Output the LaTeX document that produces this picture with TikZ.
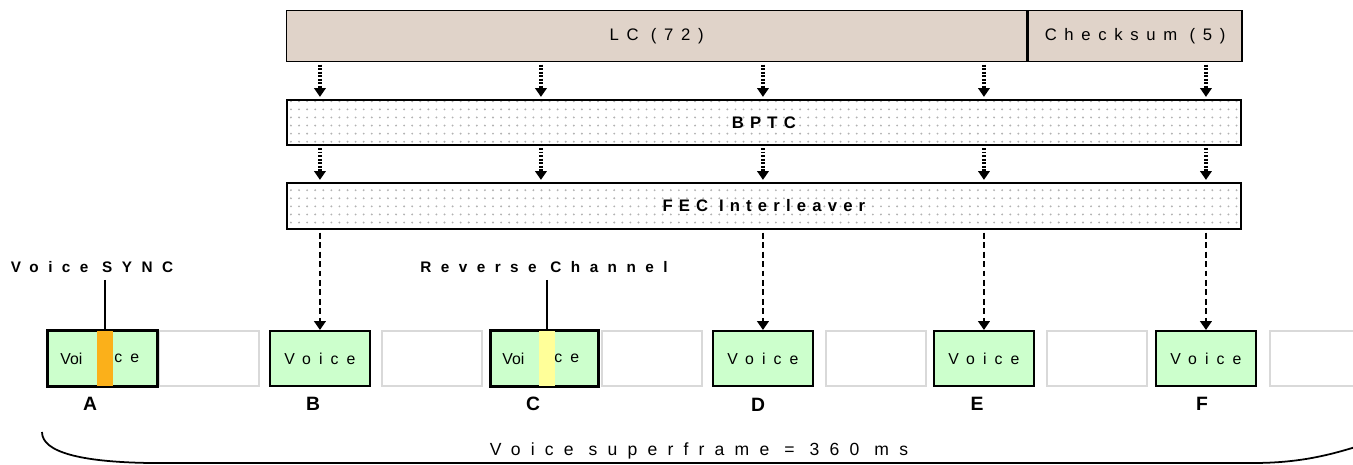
\documentclass[tikz,border=0pt]{standalone}
\usepackage{fontspec}
\setmainfont{Liberation Sans}
\usepackage{xcolor}
\usepackage{tikz}
\usetikzlibrary{arrows.meta, positioning, patterns.meta}
\definecolor{lcbrown}{HTML}{E0D3C9}
\definecolor{voicegreen}{HTML}{CCFFCC}
\definecolor{syncorange}{HTML}{FBB01A}
\definecolor{rcyellow}{HTML}{FFFF99}
\definecolor{slotgray}{HTML}{D9D9D9}
\newcommand{\spaced}[1]{\addfontfeatures{LetterSpace=#1}}
\tikzstyle{field}  = [rectangle, draw=black, line width=0.85pt, fill=lcbrown,
                      minimum height=1.02cm, inner sep=0pt, anchor=north west,
                      font=\fontsize{9.5}{11}\selectfont\spaced{46}]
\tikzstyle{coder}  = [rectangle, draw=black, line width=1.1pt,
                      pattern={Dots[radius=0.6pt, distance=4.6pt]}, pattern color=gray!60,
                      minimum width=19.08cm, inner sep=0pt, anchor=north west,
                      font=\fontsize{9.5}{11}\selectfont\bfseries\spaced{37}]
\tikzstyle{voice}  = [rectangle, draw=black, line width=1.1pt, fill=voicegreen,
                      minimum width=2cm, minimum height=1.1cm, inner sep=0pt,
                      anchor=north west, font=\fontsize{9}{10}\selectfont\spaced{51}]
\tikzstyle{slot}   = [rectangle, draw=slotgray, line width=1.2pt, minimum width=2cm,
                      minimum height=1.1cm, inner sep=0pt]
\tikzstyle{part}   = [inner sep=0pt, anchor=west, font=\fontsize{9}{10}\selectfont]
\tikzstyle{tag}    = [inner sep=0pt, font=\fontsize{8.7}{10}\selectfont\bfseries\spaced{62}]
\tikzstyle{burst}  = [inner sep=0pt, font=\fontsize{11}{12}\selectfont\bfseries]
\tikzstyle{darr}   = [-{Triangle[width=6.5pt, length=5pt]}, line width=2.1pt,
                      dash pattern=on 1.1pt off 0.9pt, shorten <=1.2pt, shorten >=1.2pt]
\tikzstyle{farr}   = [-{Triangle[width=6.5pt, length=5pt]}, line width=1.5pt,
                      dash pattern=on 3.4pt off 2pt, shorten <=1.5pt]

\begin{document}
\begin{tikzpicture}[x=0.02cm, y=-0.02cm]
  \useasboundingbox (0,0) rectangle (1353,465);

  % link control word and its coding
  \node[field, minimum width=14.8cm] (lc) at (286,10) {LC (72)};
  \node[field, minimum width=4.28cm, right=0pt of lc] (cks) {Checksum (5)};
  \node[coder, minimum height=0.9cm] (bptc) at (286,99) {BPTC};
  \node[coder, minimum height=0.92cm] (fec) at (286,182) {FEC Interleaver};

  % voice bursts A to F
  \node[voice, minimum width=2.18cm] (vA) at (47,330) {};
  \node[slot, right=0pt of vA] (eA) {};
  \node[voice] (vB) at (269,330) {Voice};
  \node[slot, right=0.2cm of vB] (eB) {};
  \node[voice, minimum width=2.14cm] (vC) at (490,330) {};
  \node[slot, right=0.04cm of vC] (eC) {};
  \node[voice] (vD) at (712,330) {Voice};
  \node[slot, right=0.22cm of vD] (eD) {};
  \node[voice] (vE) at (933,330) {Voice};
  \node[slot, right=0.22cm of vE] (eE) {};
  \node[voice] (vF) at (1155,330) {Voice};
  \node[slot, right=0.24cm of vF] (eF) {};

  % embedded sync and reverse channel
  \fill[syncorange] ([xshift=1cm]vA.north west) rectangle ([xshift=1.32cm]vA.south west);
  \draw[line width=1.1pt] (vA.north west) rectangle (vA.south east);
  \coordinate (sA) at ([xshift=1.16cm]vA.north west);
  \node[part] at ([xshift=0.26cm]vA.west) {Voi};
  \node[part, font=\fontsize{9}{10}\selectfont\spaced{51}] at ([xshift=1.34cm]vA.west) {ce};

  \fill[rcyellow] ([xshift=0.98cm]vC.north west) rectangle ([xshift=1.3cm]vC.south west);
  \draw[line width=1.1pt] (vC.north west) rectangle (vC.south east);
  \coordinate (sC) at ([xshift=1.14cm]vC.north west);
  \node[part] at ([xshift=0.24cm]vC.west) {Voi};
  \node[part, font=\fontsize{9}{10}\selectfont\spaced{51}] at ([xshift=1.28cm]vC.west) {ce};

  \node[tag] (syncl) at (92,267) {Voice SYNC};
  \node[tag] (revl) at (544,267) {Reverse Channel};
  \draw[line width=1.1pt] (sA |- syncl.south) ++(0,7) -- (sA);
  \draw[line width=1.1pt] (sC |- revl.south) ++(0,7) -- (sC);

  \node[burst] (lA) at (90,404) {A};
  \node[burst] (lB) at (313,404) {B};
  \node[burst] (lC) at (533,404) {C};
  \node[burst] (lD) at (758,405) {D};
  \node[burst] (lE) at (977,404) {E};
  \node[burst] (lF) at (1202,404) {F};

  % arrows
  \draw[darr] (vB.north |- lc.south) -- (vB.north |- bptc.north);
  \draw[darr] ([xshift=-0.07cm]vC.north |- lc.south) -- ([xshift=-0.07cm]vC.north |- bptc.north);
  \draw[darr] (vD.north |- lc.south) -- (vD.north |- bptc.north);
  \draw[darr] (vE.north |- lc.south) -- (vE.north |- bptc.north);
  \draw[darr] (vF.north |- cks.south) -- (vF.north |- bptc.north);

  \draw[darr] (vB.north |- bptc.south) -- (vB.north |- fec.north);
  \draw[darr] ([xshift=-0.07cm]vC.north |- bptc.south) -- ([xshift=-0.07cm]vC.north |- fec.north);
  \draw[darr] (vD.north |- bptc.south) -- (vD.north |- fec.north);
  \draw[darr] (vE.north |- bptc.south) -- (vE.north |- fec.north);
  \draw[darr] (vF.north |- bptc.south) -- (vF.north |- fec.north);

  \draw[farr] (vB.north |- fec.south) -- (vB.north);
  \draw[farr] (vD.north |- fec.south) -- (vD.north);
  \draw[farr] (vE.north |- fec.south) -- (vE.north);
  \draw[farr] (vF.north |- fec.south) -- (vF.north);

  % superframe bracket
  \draw[line width=1pt] (42,432) .. controls (42,452) and (80,462) .. (150,463)
    -- (1253,463) .. controls (1300,463) and (1330,455) .. (1362,445);
  \node[inner sep=0pt, font=\fontsize{10}{12}\selectfont\spaced{58}] (sf) at (699,451) {Voice superframe = 360 ms};
\end{tikzpicture}
\end{document}
